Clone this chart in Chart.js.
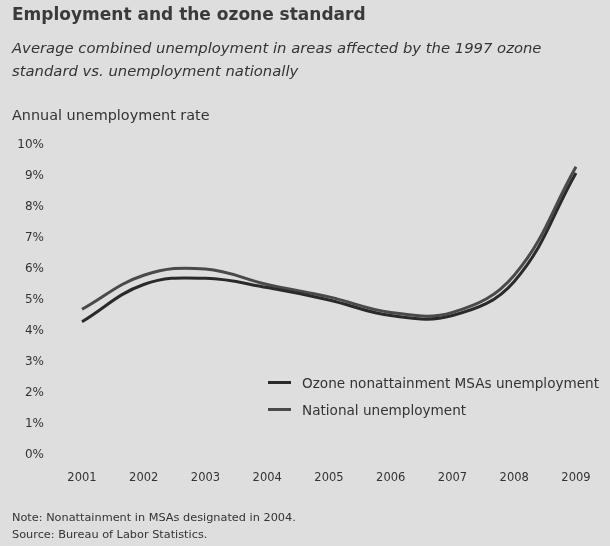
<!DOCTYPE html>
<html>
<head>
<meta charset="utf-8">
<script src="https://cdn.jsdelivr.net/npm/chart.js@4/dist/chart.umd.min.js"></script>
<style>
  html, body { margin: 0; padding: 0; }
  body { width: 610px; height: 546px; background: #dedede; position: relative; overflow: hidden;
         font-family: "DejaVu Sans", sans-serif; color: #333; }
  #wrap { position: absolute; left: 0; top: 0; width: 610px; height: 546px; }
  .txt { position: absolute; left: 12px; white-space: nowrap; }
  #title { top: 4px; font-size: 17px; font-weight: bold; color: #3a3a3a; }
  #sub { top: 36px; font-size: 14.8px; font-style: italic; line-height: 23px; color: #333; }
  #axisTitle { top: 107px; font-size: 14.4px; color: #333; }
  #note { top: 509px; font-size: 11.3px; line-height: 17px; color: #333; }
  #legend { position: absolute; left: 268px; top: 369px; font-size: 13.6px; color: #333; }
  #legend .item { display: flex; align-items: center; height: 27px; }
  #legend .swatch { width: 23px; height: 3px; margin-right: 11px; }
</style>
</head>
<body>
<div id="wrap"><canvas id="c" width="610" height="546"></canvas></div>
<div class="txt" id="title">Employment and the ozone standard</div>
<div class="txt" id="sub">Average combined unemployment in areas affected by the 1997 ozone<br>standard vs. unemployment nationally</div>
<div class="txt" id="axisTitle">Annual unemployment rate</div>
<div id="legend"></div>
<div class="txt" id="note">Note: Nonattainment in MSAs designated in 2004.<br>Source: Bureau of Labor Statistics.</div>
<script>
// Years on the horizontal axis
const years = ['2001', '2002', '2003', '2004', '2005', '2006', '2007', '2008', '2009'];
// Unemployment rate (%) averaged over ozone nonattainment MSAs
const ozoneMSAs = [4.3, 5.5, 5.7, 5.4, 5.0, 4.5, 4.5, 5.6, 9.1];
// National unemployment rate (%)
const national = [4.7, 5.8, 6.0, 5.5, 5.1, 4.6, 4.6, 5.8, 9.3];
// Vertical axis ticks (%)
const yTicks = [0, 1, 2, 3, 4, 5, 6, 7, 8, 9, 10];

const seriesLabels = ['Ozone nonattainment MSAs unemployment', 'National unemployment'];
const seriesColors = ['#2a2a2a', '#4a4a4a'];

const chart = new Chart(document.getElementById('c'), {
  type: 'line',
  data: {
    labels: years,
    datasets: [
      { label: seriesLabels[0], data: ozoneMSAs, borderColor: seriesColors[0], borderWidth: 3,
        pointRadius: 0, tension: 0.4, fill: false },
      { label: seriesLabels[1], data: national, borderColor: seriesColors[1], borderWidth: 3,
        pointRadius: 0, tension: 0.4, fill: false }
    ]
  },
  options: {
    responsive: false,
    animation: false,
    events: [],
    layout: { padding: { top: 145, right: 34, bottom: 0, left: 0 } },
    plugins: { legend: { display: false }, tooltip: { enabled: false }, title: { display: false } },
    scales: {
      x: {
        offset: false,
        grid: { display: false, drawTicks: false },
        border: { display: false },
        ticks: { padding: 16, color: '#333', font: { family: 'DejaVu Sans', size: 11.5 }, maxRotation: 0 },
        afterFit: s => { s.height = 91; }
      },
      y: {
        min: 0, max: 10,
        afterBuildTicks: s => { s.ticks = yTicks.map(v => ({ value: v })); },
        grid: { display: false, drawTicks: false },
        border: { display: false },
        ticks: { padding: 38, color: '#333', font: { family: 'DejaVu Sans', size: 12 },
                 callback: v => v + '%' },
        afterFit: s => { s.width = 82; }
      }
    }
  }
});

// Legend built from the chart's datasets
const legend = document.getElementById('legend');
chart.data.datasets.forEach(ds => {
  const item = document.createElement('div');
  item.className = 'item';
  const sw = document.createElement('span');
  sw.className = 'swatch';
  sw.style.background = ds.borderColor;
  const t = document.createElement('span');
  t.textContent = ds.label;
  item.appendChild(sw); item.appendChild(t);
  legend.appendChild(item);
});
</script>
</body>
</html>
